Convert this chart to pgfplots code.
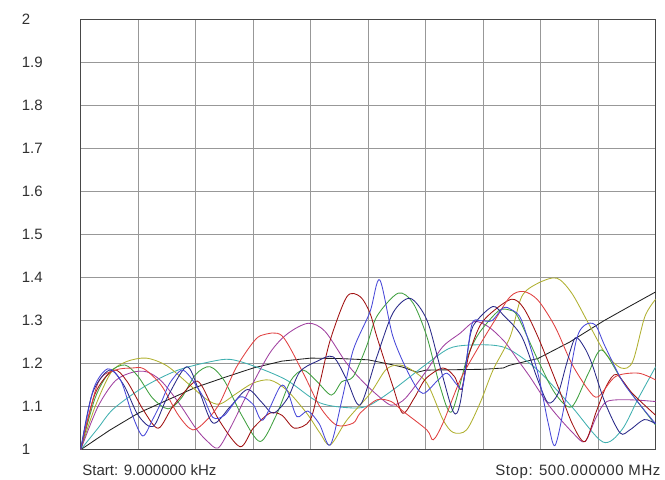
\documentclass[border=0pt]{standalone}
\usepackage{pgfplots}
\pgfplotsset{compat=1.18}
\usepackage{fontspec}
\setmainfont{Liberation Sans}
\definecolor{cblack}{HTML}{202020}
\definecolor{colive}{HTML}{B0B030}
\definecolor{cteal}{HTML}{40B0B0}
\definecolor{cred}{HTML}{E04040}
\definecolor{cmaroon}{HTML}{A01010}
\definecolor{cgreen}{HTML}{40A040}
\definecolor{cblue}{HTML}{2020E0}
\definecolor{cnavy}{HTML}{282888}
\definecolor{cpurple}{HTML}{A040A0}
\definecolor{cslate}{HTML}{4848D8}
\definecolor{gridc}{HTML}{989898}
\definecolor{framec}{HTML}{484848}
\definecolor{txt}{HTML}{303030}
\begin{document}
\begin{tikzpicture}
\begin{axis}[
  scale only axis, width=575bp, height=430bp,
  xmin=0, xmax=10, ymin=1, ymax=2,
  xtick={0,1,...,10}, xticklabels={},
  ytick={1,1.1,1.2,1.3,1.4,1.5,1.6,1.7,1.8,1.9,2},
  yticklabels={1,1.1,1.2,1.3,1.4,1.5,1.6,1.7,1.8,1.9,2},
  major tick length=0pt,
  grid=major,
  major grid style={color=gridc, line width=1bp},
  axis line style={color=framec, line width=1.2bp},
  yticklabel style={anchor=west, inner sep=0pt, xshift=-59bp, font=\fontsize{15bp}{18bp}\selectfont, text=txt},
  /pgf/number format/assume math mode=true,
  every axis plot/.append style={line width=0.85bp},
  clip=true,
]
% black
\addplot[cblack, sharp plot] coordinates {(0,1.0) (0.5,1.045) (1,1.085) (1.5,1.115) (2,1.145) (2.5,1.168) (3,1.19) (3.5,1.206) (4,1.213) (4.5,1.212) (5,1.209) (5.4,1.198) (5.6,1.192) (5.85,1.18) (6.0,1.185) (6.5,1.186) (7.0,1.187) (7.35,1.19) (7.45,1.196) (7.95,1.212) (8.5,1.25) (9.1,1.30) (9.5,1.33) (10,1.367)};
% teal
\addplot[cteal, smooth, tension=0.5] coordinates {(0,1.0) (0.3,1.05) (0.57,1.095) (1.11,1.147) (1.69,1.185) (2.27,1.205) (2.6,1.21) (3.0,1.195) (3.58,1.162) (4.16,1.109) (4.74,1.097) (5.03,1.104) (5.43,1.139) (6.02,1.2) (6.4,1.235) (6.71,1.243) (7.17,1.243) (7.47,1.232) (7.95,1.185) (8.54,1.1) (9.08,1.018) (9.41,1.046) (9.7,1.12) (10,1.193)};
% olive
\addplot[colive, smooth, tension=0.5] coordinates {(0,1.0) (0.25,1.1) (0.53,1.18) (0.8,1.205) (1.14,1.213) (1.5,1.195) (1.9,1.15) (2.2,1.116) (2.42,1.106) (2.7,1.13) (3.0,1.155) (3.29,1.162) (3.58,1.139) (3.93,1.085) (4.16,1.039) (4.34,1.011) (4.63,1.069) (5.03,1.13) (5.3,1.185) (5.5,1.197) (5.7,1.19) (6.02,1.155) (6.3,1.07) (6.48,1.04) (6.71,1.046) (6.95,1.11) (7.17,1.185) (7.47,1.263) (7.67,1.356) (7.95,1.387) (8.28,1.399) (8.54,1.364) (8.83,1.294) (9.12,1.225) (9.4,1.19) (9.6,1.205) (9.81,1.309) (10,1.35)};
% purple
\addplot[cpurple, smooth, tension=0.5] coordinates {(0,1.0) (0.3,1.1) (0.6,1.16) (0.9,1.18) (1.15,1.181) (1.4,1.16) (1.7,1.11) (2.0,1.05) (2.2,1.02) (2.39,1.004) (2.6,1.05) (2.9,1.13) (3.29,1.225) (3.6,1.27) (3.96,1.294) (4.25,1.275) (4.63,1.2) (4.97,1.15) (5.32,1.109) (5.45,1.104) (5.65,1.12) (6.02,1.185) (6.3,1.24) (6.6,1.271) (6.85,1.298) (7.1,1.285) (7.38,1.25) (7.6,1.209) (7.81,1.17) (8.16,1.1) (8.56,1.039) (8.77,1.019) (8.97,1.077) (9.15,1.112) (9.55,1.116) (10,1.112)};
% green
\addplot[cgreen, smooth, tension=0.5] coordinates {(0,1.0) (0.25,1.12) (0.5,1.18) (0.77,1.197) (1.0,1.17) (1.25,1.12) (1.52,1.095) (1.75,1.12) (2.0,1.175) (2.25,1.193) (2.5,1.16) (2.8,1.08) (3.12,1.019) (3.4,1.08) (3.65,1.16) (3.87,1.185) (4.1,1.16) (4.36,1.127) (4.54,1.158) (4.74,1.17) (4.97,1.24) (5.15,1.31) (5.52,1.364) (5.78,1.341) (6.02,1.263) (6.25,1.147) (6.45,1.088) (6.71,1.209) (6.89,1.263) (7.1,1.3) (7.29,1.325) (7.45,1.325) (7.6,1.31) (7.95,1.209) (8.25,1.131) (8.54,1.1) (8.83,1.178) (9.06,1.232) (9.41,1.162) (9.7,1.109) (10,1.057)};
% maroon
\addplot[cmaroon, smooth, tension=0.5] coordinates {(0,1.0) (0.25,1.13) (0.57,1.185) (0.8,1.16) (1.1,1.09) (1.35,1.05) (1.6,1.1) (1.95,1.155) (2.1,1.15) (2.4,1.07) (2.77,1.007) (3.0,1.05) (3.29,1.085) (3.5,1.08) (3.72,1.05) (3.99,1.069) (4.15,1.15) (4.34,1.255) (4.63,1.356) (4.86,1.356) (5.03,1.318) (5.15,1.263) (5.43,1.147) (5.6,1.085) (5.8,1.12) (6.0,1.165) (6.3,1.19) (6.5,1.17) (6.62,1.14) (6.75,1.22) (6.95,1.29) (7.2,1.325) (7.5,1.35) (7.7,1.33) (7.95,1.263) (8.3,1.147) (8.55,1.06) (8.77,1.019) (8.97,1.09) (9.15,1.15) (9.32,1.175) (9.6,1.13) (10,1.08)};
% red
\addplot[cred, smooth, tension=0.5] coordinates {(0,1.0) (0.3,1.155) (0.6,1.185) (0.9,1.19) (1.1,1.188) (1.4,1.15) (1.7,1.08) (1.95,1.046) (2.2,1.07) (2.42,1.109) (2.7,1.19) (3.0,1.25) (3.17,1.267) (3.5,1.265) (3.87,1.178) (4.16,1.1) (4.45,1.057) (4.74,1.062) (4.86,1.085) (5.15,1.116) (5.4,1.112) (5.6,1.09) (6.02,1.046) (6.13,1.023) (6.3,1.062) (6.6,1.162) (6.89,1.232) (7.17,1.294) (7.47,1.356) (7.7,1.368) (7.95,1.348) (8.25,1.286) (8.54,1.2) (8.83,1.139) (9.0,1.123) (9.3,1.17) (9.7,1.178) (10,1.162)};
% navy
\addplot[cnavy, smooth, tension=0.5] coordinates {(0,1.0) (0.2,1.13) (0.5,1.185) (0.75,1.15) (1.0,1.08) (1.26,1.054) (1.5,1.12) (1.84,1.193) (2.05,1.14) (2.3,1.062) (2.6,1.1) (2.9,1.14) (3.15,1.11) (3.35,1.085) (3.6,1.12) (3.81,1.181) (4.1,1.205) (4.39,1.216) (4.63,1.162) (4.86,1.104) (5.15,1.216) (5.43,1.318) (5.73,1.352) (6.02,1.302) (6.25,1.193) (6.48,1.088) (6.6,1.109) (6.77,1.263) (6.89,1.30) (7.17,1.333) (7.35,1.313) (7.67,1.263) (7.95,1.162) (8.13,1.109) (8.3,1.13) (8.45,1.2) (8.6,1.26) (8.75,1.24) (8.89,1.2) (9.12,1.109) (9.38,1.039) (9.55,1.046) (9.8,1.07) (10,1.06)};
% medium blue
\addplot[cslate, smooth, tension=0.5] coordinates {(0,1.0) (0.22,1.14) (0.47,1.188) (0.7,1.16) (0.9,1.08) (1.08,1.032) (1.25,1.07) (1.4,1.11) (1.55,1.155) (1.75,1.185) (1.9,1.17) (2.13,1.123) (2.3,1.075) (2.5,1.08) (2.77,1.123) (3.0,1.105) (3.17,1.069) (3.47,1.147) (3.6,1.135) (3.76,1.077) (3.95,1.09) (4.15,1.06) (4.34,1.011) (4.55,1.12) (4.74,1.232) (5.03,1.32) (5.2,1.395) (5.43,1.263) (5.73,1.17) (5.95,1.131) (6.2,1.16) (6.37,1.178) (6.55,1.15) (6.65,1.15) (6.8,1.29) (6.95,1.30) (7.15,1.30) (7.35,1.33) (7.5,1.325) (7.67,1.30) (7.95,1.178) (8.13,1.062) (8.25,1.01) (8.42,1.109) (8.62,1.255) (8.77,1.29) (8.95,1.29) (9.12,1.24) (9.41,1.162) (9.7,1.109) (10,1.06)};
\end{axis}
\node[anchor=base west, inner sep=0pt, font=\fontsize{15bp}{18bp}\selectfont, text=txt] at ([xshift=1.5bp, yshift=-25.6bp]current axis.south west) {Start: 9.000000 kHz};
\node[anchor=base east, inner sep=0pt, font=\fontsize{15bp}{18bp}\selectfont\addfontfeature{LetterSpace=4}, text=txt] at ([xshift=5bp, yshift=-25.6bp]current axis.south east) {Stop: 500.000000 MHz};
\pgfresetboundingbox
\useasboundingbox ([xshift=-80.7bp, yshift=-30.3bp]current axis.south west) rectangle ++(665bp,480bp);
\end{tikzpicture}
\end{document}
